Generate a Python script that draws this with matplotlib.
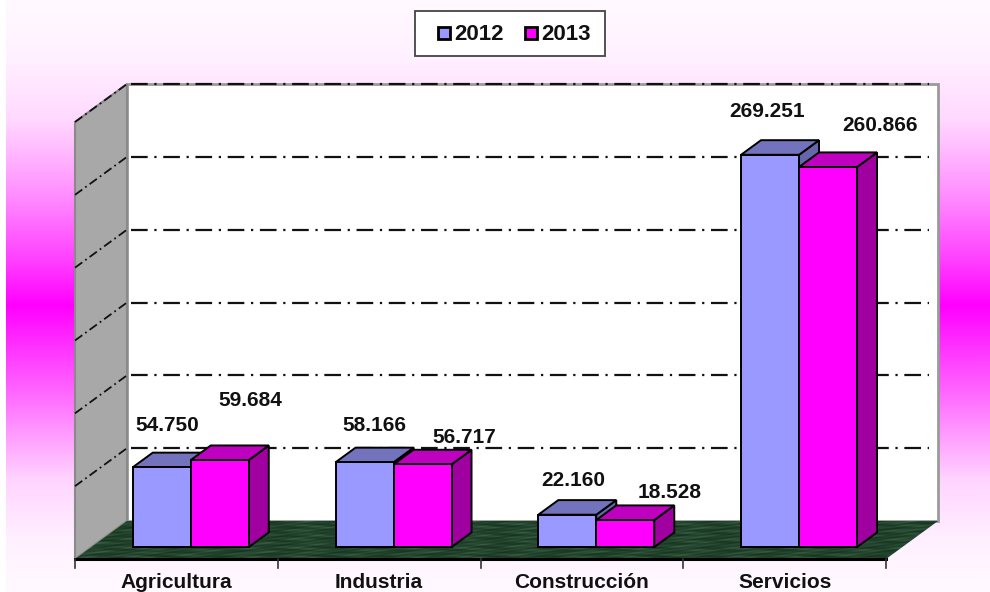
import numpy as np
import matplotlib
matplotlib.use("Agg")
import matplotlib.pyplot as plt
from matplotlib.colors import LinearSegmentedColormap
from matplotlib.patches import Polygon, Rectangle

categories = ['Agricultura', 'Industria', 'Construcción', 'Servicios']
years = ['2012', '2013']
values_2012 = [54750, 58166, 22160, 269251]
values_2013 = [59684, 56717, 18528, 260866]
labels_2012 = ['54.750', '58.166', '22.160', '269.251']
labels_2013 = ['59.684', '56.717', '18.528', '260.866']
y_ticks = [0, 50000, 100000, 150000, 200000, 250000, 300000]

# label offsets from the bar's front top centre, in pixels
offsets_2012 = [(5, 42), (10, 37), (6, 34), (-3, 43)]
offsets_2013 = [(31, 60), (42, 27), (44, 28), (52, 41)]

W, H = 990, 592
plt.rcParams['font.family'] = ['Liberation Sans', 'DejaVu Sans']
fig = plt.figure(figsize=(W / 100, H / 100), dpi=100)

# background gradient, pale at the edges and magenta in the middle
bg = fig.add_axes([0, 0, 1, 1])
bg.axis('off')
stops = [(0, '#fffaff'), (60 / H, '#fff0ff'), (120 / H, '#ffd8ff'), (193 / H, '#ff90ff'), (260 / H, '#ff40ff'),
         (305 / H, '#ff00ff'), (400 / H, '#ff70ff'), (480 / H, '#ffd4ff'), (540 / H, '#fff0ff'), (1, '#fffaff')]
cmap = LinearSegmentedColormap.from_list('bg', stops, N=592)
grad = np.linspace(0, 1, 592).reshape(-1, 1)
bg.imshow(grad, aspect='auto', cmap=cmap, extent=[6, 990, 592, 0])
bg.set_xlim(0, 990)
bg.set_ylim(592, 0)

# axes sits on the front plane of the 3d box, values go through its scales
ax = fig.add_axes([75 / W, 1 - 559 / H, 811 / W, 437 / H])
ax.set_xlim(0, 4)
ax.set_ylim(0, 300000)
ax.patch.set_visible(False)
for s in ax.spines.values():
    s.set_visible(False)
ax.set_yticks([])
ax.set_xticks([])

DX = 52 * 4 / 811
DY = 38 * 300000 / 437
PX = 4 / 811


def pt(x, y, d=0.0):
    return (x + DX * d, y + DY * d)


def face(pts, color, z, lw=1.4, ec='black'):
    ax.add_patch(Polygon(pts, closed=True, fc=color, ec=ec, lw=lw, zorder=z, clip_on=False, joinstyle='miter'))


# back wall, side wall
ymax = y_ticks[-1]
face([pt(0, 0, 1), pt(4, 0, 1), pt(4, ymax, 1), pt(0, ymax, 1)], 'white', 1, lw=2, ec='#9a9a9a')
face([pt(0, 0, 0), pt(0, 0, 1), pt(0, ymax, 1), pt(0, ymax, 0)], '#a8a8a8', 2, lw=1.5, ec='#8a8a8a')

# floor with a mottled green fill
rows = np.arange(60)[:, None]
cols = np.arange(900)[None, :]
tex = (np.sin(rows * 0.9 + np.sin(cols * 0.037) * 2.3) + np.sin(cols * 0.11 + np.sin(rows * 0.5) * 1.7) +
       np.sin(cols * 0.29 + rows * 1.3)) / 3
floor_cmap = LinearSegmentedColormap.from_list('floor', ['#14301c', '#21432b', '#3f6148'])
floor = Polygon([pt(0, 0, 0), pt(4, 0, 0), pt(4, 0, 1), pt(0, 0, 1)], closed=True, fc='none', ec='none', clip_on=False)
ax.add_patch(floor)
im = ax.imshow(tex, cmap=floor_cmap, extent=[0, 4 + DX, 0, DY], aspect='auto', zorder=3, vmin=-1, vmax=1,
               interpolation='bilinear')
im.set_clip_box(fig.bbox)
im.set_clip_path(floor)
ax.set_xlim(0, 4)
ax.set_ylim(0, 300000)

# gridlines on the back wall and down the side wall
for t in y_ticks[1:]:
    ax.plot(*zip(pt(4 * PX, t, 1), pt(4 - 9 * PX, t, 1)), color='#111111', lw=1.6, ls=(0, (7.5, 3, 1, 3)), zorder=4,
            clip_on=False)
    ax.plot(*zip(pt(0, t, 0), pt(0, t, 1)), color='#111111', lw=1.3, ls=(0, (5, 2, 1, 2)), zorder=4, clip_on=False)

# category axis
ax.plot([0, 4], [0, 0], color='black', lw=2.2, zorder=5, clip_on=False)
for i in range(5):
    ax.plot([i, i], [0, -6000], color='#333333', lw=1.2, zorder=5, clip_on=False)
for i, c in enumerate(categories):
    ax.text(i + 0.5, -9800, c, ha='center', va='top', fontsize=15, fontweight='bold', color='#111111', clip_on=False)

# bars
BAR_W = 58 * PX
D0, D1 = 0.316, 0.70
series = [(values_2012, labels_2012, offsets_2012, '#9999ff', '#7373bd', '#6666aa', -1),
          (values_2013, labels_2013, offsets_2013, '#ff00ff', '#c000c0', '#a000a0', 0)]
for i in range(len(categories)):
    for k, (vals, labs, offs, front, top, side, off) in enumerate(series):
        v = vals[i]
        x0 = i + 0.5 + off * BAR_W - 2 * PX
        x1 = x0 + BAR_W
        z = 10 + i * 3 + k
        face([pt(x1, 0, D0), pt(x1, 0, D1), pt(x1, v, D1), pt(x1, v, D0)], side, z)
        face([pt(x0, v, D0), pt(x1, v, D0), pt(x1, v, D1), pt(x0, v, D1)], top, z)
        face([pt(x0, 0, D0), pt(x1, 0, D0), pt(x1, v, D0), pt(x0, v, D0)], front, z)
        ax.annotate(labs[i], xy=pt((x0 + x1) / 2, v, D0), xytext=(offs[i][0] * 0.72, offs[i][1] * 0.72),
                    textcoords='offset points', ha='center', va='center', fontsize=15, fontweight='bold',
                    color='#111111', zorder=30, annotation_clip=False)

# legend box
bg.add_patch(Rectangle((415, 11), 190, 45, fc='white', ec='#444444', lw=1.3, zorder=5))
for lx, col, yr in [(438, '#9999ff', years[0]), (525, '#ff00ff', years[1])]:
    bg.add_patch(Rectangle((lx, 26.5), 12, 12, fc=col, ec='black', lw=2, zorder=6))
    bg.text(lx + 16, 34, yr, ha='left', va='center', fontsize=16, fontweight='bold', color='#111111', zorder=6)

fig.savefig('out.png', dpi=100)
